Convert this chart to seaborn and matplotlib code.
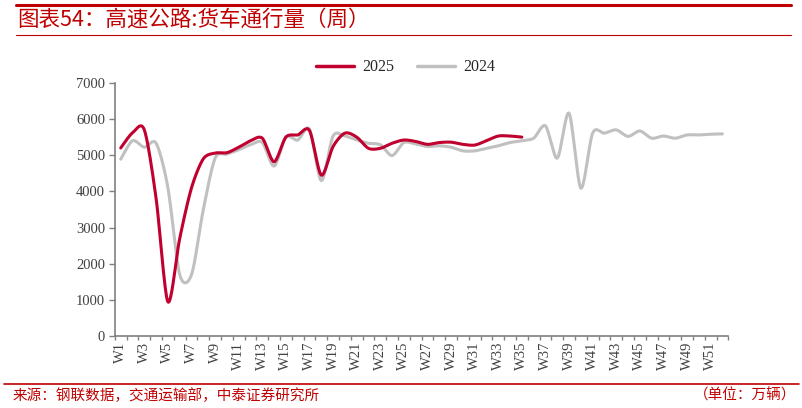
import numpy as np
import pandas as pd
import seaborn as sns
import matplotlib
matplotlib.use("Agg")
import matplotlib.pyplot as plt
from matplotlib.lines import Line2D

weeks = ["W%d" % i for i in range(1, 53)]

v2025 = [5200, 5620, 5700, 3800, 950, 2700, 4100, 4900, 5060, 5070,
         5220, 5400, 5470, 4820, 5500, 5560, 5680, 4450, 5240, 5610,
         5500, 5190, 5190, 5330, 5420, 5380, 5300, 5350, 5360, 5300,
         5280, 5400, 5530, 5530, 5500]

v2024 = [4890, 5400, 5220, 5330, 4100, 1700, 1700, 3500, 4920, 5030,
         5150, 5290, 5350, 4700, 5500, 5420, 5720, 4300, 5530, 5530,
         5420, 5330, 5290, 4990, 5350, 5310, 5240, 5260, 5220, 5120,
         5120, 5190, 5260, 5350, 5400, 5470, 5810, 4920, 6160, 4090,
         5610, 5610, 5700, 5520, 5670, 5470, 5530, 5470, 5560, 5560,
         5580, 5590]

RED = "#C0002F"
GRAY = "#C0C0C0"
TITLE_RED = "#C00000"


def smooth(y, n=20, k=7.0):
    # smoothed line drawn as cubic Bezier segments through the points
    y = np.asarray(y, dtype=float)
    x = np.arange(1, len(y) + 1, dtype=float)
    xs, ys = [], []
    for i in range(len(y) - 1):
        x0, y0 = (x[i - 1], y[i - 1]) if i > 0 else (x[i], y[i])
        x3, y3 = (x[i + 2], y[i + 2]) if i + 2 < len(y) else (x[i + 1], y[i + 1])
        p1 = np.array([x[i], y[i]])
        p2 = np.array([x[i + 1], y[i + 1]])
        c1 = p1 + (p2 - np.array([x0, y0])) / k
        c2 = p2 - (np.array([x3, y3]) - p1) / k
        t = np.linspace(0, 1, n, endpoint=False)[:, None]
        pts = ((1 - t) ** 3) * p1 + 3 * ((1 - t) ** 2) * t * c1 + 3 * (1 - t) * t ** 2 * c2 + t ** 3 * p2
        xs.extend(pts[:, 0])
        ys.extend(pts[:, 1])
    xs.append(x[-1])
    ys.append(y[-1])
    return np.array(xs), np.array(ys)


sns.set_theme(style="white")
plt.rcParams["font.family"] = ["Liberation Serif", "DejaVu Sans"]
CJK = ["Noto Sans CJK SC", "DejaVu Sans"]

fig = plt.figure(figsize=(8.03, 4.08), dpi=100)
ax = fig.add_axes([0.143, 0.176, 0.764, 0.621])

x24, y24 = smooth(v2024)
x25, y25 = smooth(v2025)
sns.lineplot(x=x24, y=y24, ax=ax, color=GRAY, lw=2.2, sort=False)
sns.lineplot(x=x25, y=y25, ax=ax, color=RED, lw=2.2, sort=False)

ax.set_xlim(0.5, 52.5)
ax.set_ylim(0, 7000)
ax.set_yticks(range(0, 7001, 1000))
ax.set_yticklabels([str(v) for v in range(0, 7001, 1000)], fontsize=10.5, color="#404040")
ax.set_xticks(range(1, 53, 2))
ax.set_xticklabels(weeks[::2], rotation=90, fontsize=10.5, color="#404040")
ax.set_xticks(np.arange(0.5, 53, 1), minor=True)
ax.tick_params(axis="x", which="major", length=0, pad=4)
ax.tick_params(axis="x", which="minor", length=3, color="#808080", width=1, direction="out", bottom=True)
ax.tick_params(axis="y", length=4, color="#808080", width=1, direction="out", left=True, pad=3)
for s in ["top", "right"]:
    ax.spines[s].set_visible(False)
for s in ["left", "bottom"]:
    ax.spines[s].set_color("#808080")
    ax.spines[s].set_linewidth(1.2)
ax.set_xlabel("")
ax.set_ylabel("")

handles = [Line2D([], [], color=RED, lw=2.5), Line2D([], [], color=GRAY, lw=2.5)]
fig.legend(handles, ["2025", "2024"], loc="center", bbox_to_anchor=(0.505, 0.835),
           ncol=2, frameon=False, fontsize=11.5, handlelength=2.4, columnspacing=1.4,
           handletextpad=0.5)

# title and frame lines
fig.add_artist(Line2D([0.02, 0.985], [0.988, 0.988], color=TITLE_RED, lw=2.2))
fig.add_artist(Line2D([0.02, 0.985], [0.915, 0.915], color=TITLE_RED, lw=0.8))
fig.text(0.022, 0.952, "图表54：高速公路:货车通行量（周）", color=TITLE_RED, fontsize=15.5,
         family=CJK, va="center", ha="left", style="italic")
fig.add_artist(Line2D([0.005, 0.995], [0.06, 0.06], color=TITLE_RED, lw=1.2))
fig.text(0.015, 0.03, "来源：钢联数据，交通运输部，中泰证券研究所", color=TITLE_RED, fontsize=10.5,
         family=CJK, va="center", ha="left")
fig.text(0.992, 0.03, "（单位：万辆）", color=TITLE_RED, fontsize=10.5,
         family=CJK, va="center", ha="right")

fig.savefig("out.png", dpi=100)
